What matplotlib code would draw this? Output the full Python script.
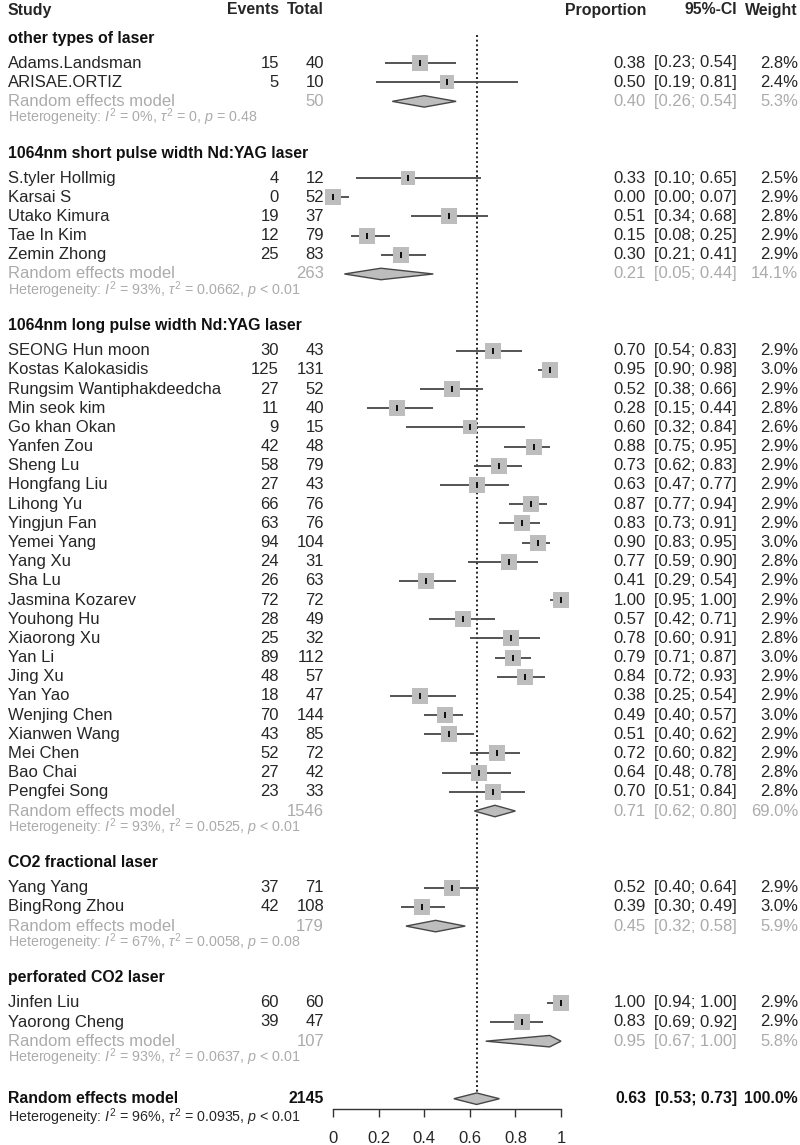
import matplotlib
matplotlib.use('Agg')
import matplotlib.pyplot as plt
from matplotlib import transforms
import numpy as np

plt.rcParams['font.family'] = ['Liberation Sans', 'DejaVu Sans']
plt.rcParams['mathtext.fontset'] = 'custom'
plt.rcParams['mathtext.rm'] = 'Liberation Sans'
plt.rcParams['mathtext.it'] = 'Liberation Sans:italic'
plt.rcParams['mathtext.bf'] = 'Liberation Sans:bold'

# ---------------- data ----------------
group_names = ["other types of laser",
               "1064nm short pulse width Nd:YAG laser",
               "1064nm long pulse width Nd:YAG laser",
               "CO2 fractional laser",
               "perforated CO2 laser"]

group_studies = [
    ["Adams.Landsman", "ARISAE.ORTIZ"],
    ["S.tyler Hollmig", "Karsai S", "Utako Kimura", "Tae In Kim", "Zemin Zhong"],
    ["SEONG Hun moon", "Kostas Kalokasidis", "Rungsim Wantiphakdeedcha", "Min seok kim",
     "Go khan Okan", "Yanfen Zou", "Sheng Lu", "Hongfang Liu", "Lihong Yu", "Yingjun Fan",
     "Yemei Yang", "Yang Xu", "Sha Lu", "Jasmina Kozarev", "Youhong Hu", "Xiaorong Xu",
     "Yan Li", "Jing Xu", "Yan Yao", "Wenjing Chen", "Xianwen Wang", "Mei Chen",
     "Bao Chai", "Pengfei Song"],
    ["Yang Yang", "BingRong Zhou"],
    ["Jinfen Liu", "Yaorong Cheng"],
]
group_events = [
    [15, 5],
    [4, 0, 19, 12, 25],
    [30, 125, 27, 11, 9, 42, 58, 27, 66, 63, 94, 24, 26, 72, 28, 25, 89, 48, 18, 70, 43, 52, 27, 23],
    [37, 42],
    [60, 39],
]
group_totals = [
    [40, 10],
    [12, 52, 37, 79, 83],
    [43, 131, 52, 40, 15, 48, 79, 43, 76, 76, 104, 31, 63, 72, 49, 32, 112, 57, 47, 144, 85, 72, 42, 33],
    [71, 108],
    [60, 47],
]
group_prop = [
    [0.38, 0.50],
    [0.33, 0.00, 0.51, 0.15, 0.30],
    [0.70, 0.95, 0.52, 0.28, 0.60, 0.88, 0.73, 0.63, 0.87, 0.83, 0.90, 0.77, 0.41, 1.00,
     0.57, 0.78, 0.79, 0.84, 0.38, 0.49, 0.51, 0.72, 0.64, 0.70],
    [0.52, 0.39],
    [1.00, 0.83],
]
group_lo = [
    [0.23, 0.19],
    [0.10, 0.00, 0.34, 0.08, 0.21],
    [0.54, 0.90, 0.38, 0.15, 0.32, 0.75, 0.62, 0.47, 0.77, 0.73, 0.83, 0.59, 0.29, 0.95,
     0.42, 0.60, 0.71, 0.72, 0.25, 0.40, 0.40, 0.60, 0.48, 0.51],
    [0.40, 0.30],
    [0.94, 0.69],
]
group_hi = [
    [0.54, 0.81],
    [0.65, 0.07, 0.68, 0.25, 0.41],
    [0.83, 0.98, 0.66, 0.44, 0.84, 0.95, 0.83, 0.77, 0.94, 0.91, 0.95, 0.90, 0.54, 1.00,
     0.71, 0.91, 0.87, 0.93, 0.54, 0.57, 0.62, 0.82, 0.78, 0.84],
    [0.64, 0.49],
    [1.00, 0.92],
]
group_weight = [
    [2.8, 2.4],
    [2.5, 2.9, 2.8, 2.9, 2.9],
    [2.9, 3.0, 2.9, 2.8, 2.6, 2.9, 2.9, 2.9, 2.9, 2.9, 3.0, 2.8, 2.9, 2.9, 2.9, 2.8,
     3.0, 2.9, 2.9, 3.0, 2.9, 2.9, 2.8, 2.8],
    [2.9, 3.0],
    [2.9, 2.9],
]
sub_total = [50, 263, 1546, 179, 107]
sub_prop = [0.40, 0.21, 0.71, 0.45, 0.95]
sub_lo = [0.26, 0.05, 0.62, 0.32, 0.67]
sub_hi = [0.54, 0.44, 0.80, 0.58, 1.00]
sub_weight = [5.3, 14.1, 69.0, 5.9, 5.8]
sub_i2 = ["0%", "93%", "93%", "67%", "93%"]
sub_tau2 = ["0", "0.0662", "0.0525", "0.0058", "0.0637"]
sub_p = ["= 0.48", "< 0.01", "< 0.01", "= 0.08", "< 0.01"]

overall_total = 2145
overall_prop = 0.63
overall_lo = 0.53
overall_hi = 0.73
overall_weight = 100.0
overall_i2 = "96%"
overall_tau2 = "0.0935"
overall_p = "< 0.01"

x_ticks = [0, 0.2, 0.4, 0.6, 0.8, 1]
x_ticklabels = ["0", "0.2", "0.4", "0.6", "0.8", "1"]

# ---------------- layout ----------------
W, H = 800, 1145
ROW = 19.18
Y0 = 63.0
fig = plt.figure(figsize=(W / 100, H / 100), dpi=100)
ax = fig.add_axes([333 / W, 0, 228 / W, 1])
ax.set_xlim(0, 1)
ax.set_ylim((H - Y0) / ROW, -Y0 / ROW)
ax.patch.set_visible(False)
for s in ["top", "left", "right"]:
    ax.spines[s].set_visible(False)
ax.set_yticks([])

tr = transforms.blended_transform_factory(fig.transFigure, ax.transData)

X_STUDY = 8 / W
X_EV = 279 / W
X_TOT = 324 / W
X_PROP = 646 / W
X_CI = 737 / W
X_W = 798 / W

C_TXT = '#262626'
C_GRAY = '#ababab'
C_LINE = '#474747'
C_SQ = '#bdbdbd'
FS = 12
FS_B = 11.4
FS_HET = 10.3


def t(x, y, s, ha='left', color=C_TXT, size=FS, weight='normal'):
    if weight == 'bold' and size == FS:
        size = FS_B
    ax.text(x, y, s, transform=tr, ha=ha, va='center', color=color,
            fontsize=size, fontweight=weight, clip_on=False)


def het(y, i2, tau, p, color):
    s = r"Heterogeneity: $I^2$ = " + i2 + r", $\tau^2$ = " + tau + r", $p$ " + p
    t(X_STUDY, y, s, color=color, size=FS_HET)


def diamond(y, p, lo, hi, h=0.3):
    ax.fill([lo, p, hi, p], [y, y - h, y, y + h], facecolor=C_SQ,
            edgecolor=C_LINE, lw=1.0, zorder=3, clip_on=False)


# header
yh = (10 - Y0) / ROW
t(X_STUDY, yh, "Study", weight='bold')
t(X_EV, yh, "Events", ha='right', weight='bold')
t(X_TOT, yh, "Total", ha='right', weight='bold')
t(X_PROP, yh, "Proportion", ha='right', weight='bold')
t(X_CI, yh, "95%-CI", ha='right', weight='bold')
t(X_W, yh, "Weight", ha='right', weight='bold')

slot = -1
for g, name in enumerate(group_names):
    t(X_STUDY, slot - 0.3, name, weight='bold', color='#111111')
    slot += 1
    for i, st in enumerate(group_studies[g]):
        y = slot
        p, lo, hi, w = group_prop[g][i], group_lo[g][i], group_hi[g][i], group_weight[g][i]
        t(X_STUDY, y, st)
        t(X_EV, y, str(group_events[g][i]), ha='right')
        t(X_TOT, y, str(group_totals[g][i]), ha='right')
        t(X_PROP, y, f"{p:.2f}", ha='right')
        t(X_CI, y, f"[{lo:.2f}; {hi:.2f}]", ha='right')
        t(X_W, y, f"{w:.1f}%", ha='right')
        ax.hlines(y, lo, hi, color=C_LINE, lw=1.3, zorder=2, clip_on=False)
        side = 11.5 * np.sqrt(w / 3.0)
        ax.scatter([p], [y], marker='s', s=side ** 2, color=C_SQ, linewidths=0,
                   zorder=3, clip_on=False)
        ax.scatter([p], [y], marker='|', s=22, color='black', linewidths=1.3,
                   zorder=4, clip_on=False)
        slot += 1
    y = slot
    t(X_STUDY, y, "Random effects model", color=C_GRAY)
    t(X_TOT, y, str(sub_total[g]), ha='right', color=C_GRAY)
    t(X_PROP, y, f"{sub_prop[g]:.2f}", ha='right', color=C_GRAY)
    t(X_CI, y, f"[{sub_lo[g]:.2f}; {sub_hi[g]:.2f}]", ha='right', color=C_GRAY)
    t(X_W, y, f"{sub_weight[g]:.1f}%", ha='right', color=C_GRAY)
    diamond(y, sub_prop[g], sub_lo[g], sub_hi[g])
    slot += 1
    het(slot - 0.15, sub_i2[g], sub_tau2[g], sub_p[g], C_GRAY)
    slot += 2

# overall
y = slot
t(X_STUDY, y, "Random effects model", weight='bold', color='#111111')
t(X_TOT, y, str(overall_total), ha='right', weight='bold', color='#111111')
t(X_PROP, y, f"{overall_prop:.2f}", ha='right', weight='bold', color='#111111')
t(X_CI, y, f"[{overall_lo:.2f}; {overall_hi:.2f}]", ha='right', weight='bold', color='#111111')
t(X_W, y, f"{overall_weight:.1f}%", ha='right', weight='bold', color='#111111')
diamond(y, overall_prop, overall_lo, overall_hi)
het(y + 0.95, overall_i2, overall_tau2, overall_p, C_TXT)

# reference line at overall estimate
ax.plot([overall_prop, overall_prop], [(35 - Y0) / ROW, y - 0.3], color='black',
        lw=1.2, linestyle=(0, (1.2, 1.6)), zorder=1, clip_on=False)

# x axis
ax.spines['bottom'].set_position(('data', (1109 - Y0) / ROW))
ax.spines['bottom'].set_bounds(0, 1)
ax.spines['bottom'].set_color('#333333')
ax.spines['bottom'].set_linewidth(1.0)
ax.set_xticks(x_ticks)
ax.set_xticklabels(x_ticklabels)
ax.tick_params(axis='x', direction='out', length=6, width=1.0, color='#333333',
               labelsize=FS, labelcolor=C_TXT, pad=10)

fig.savefig('out.png', dpi=100)
